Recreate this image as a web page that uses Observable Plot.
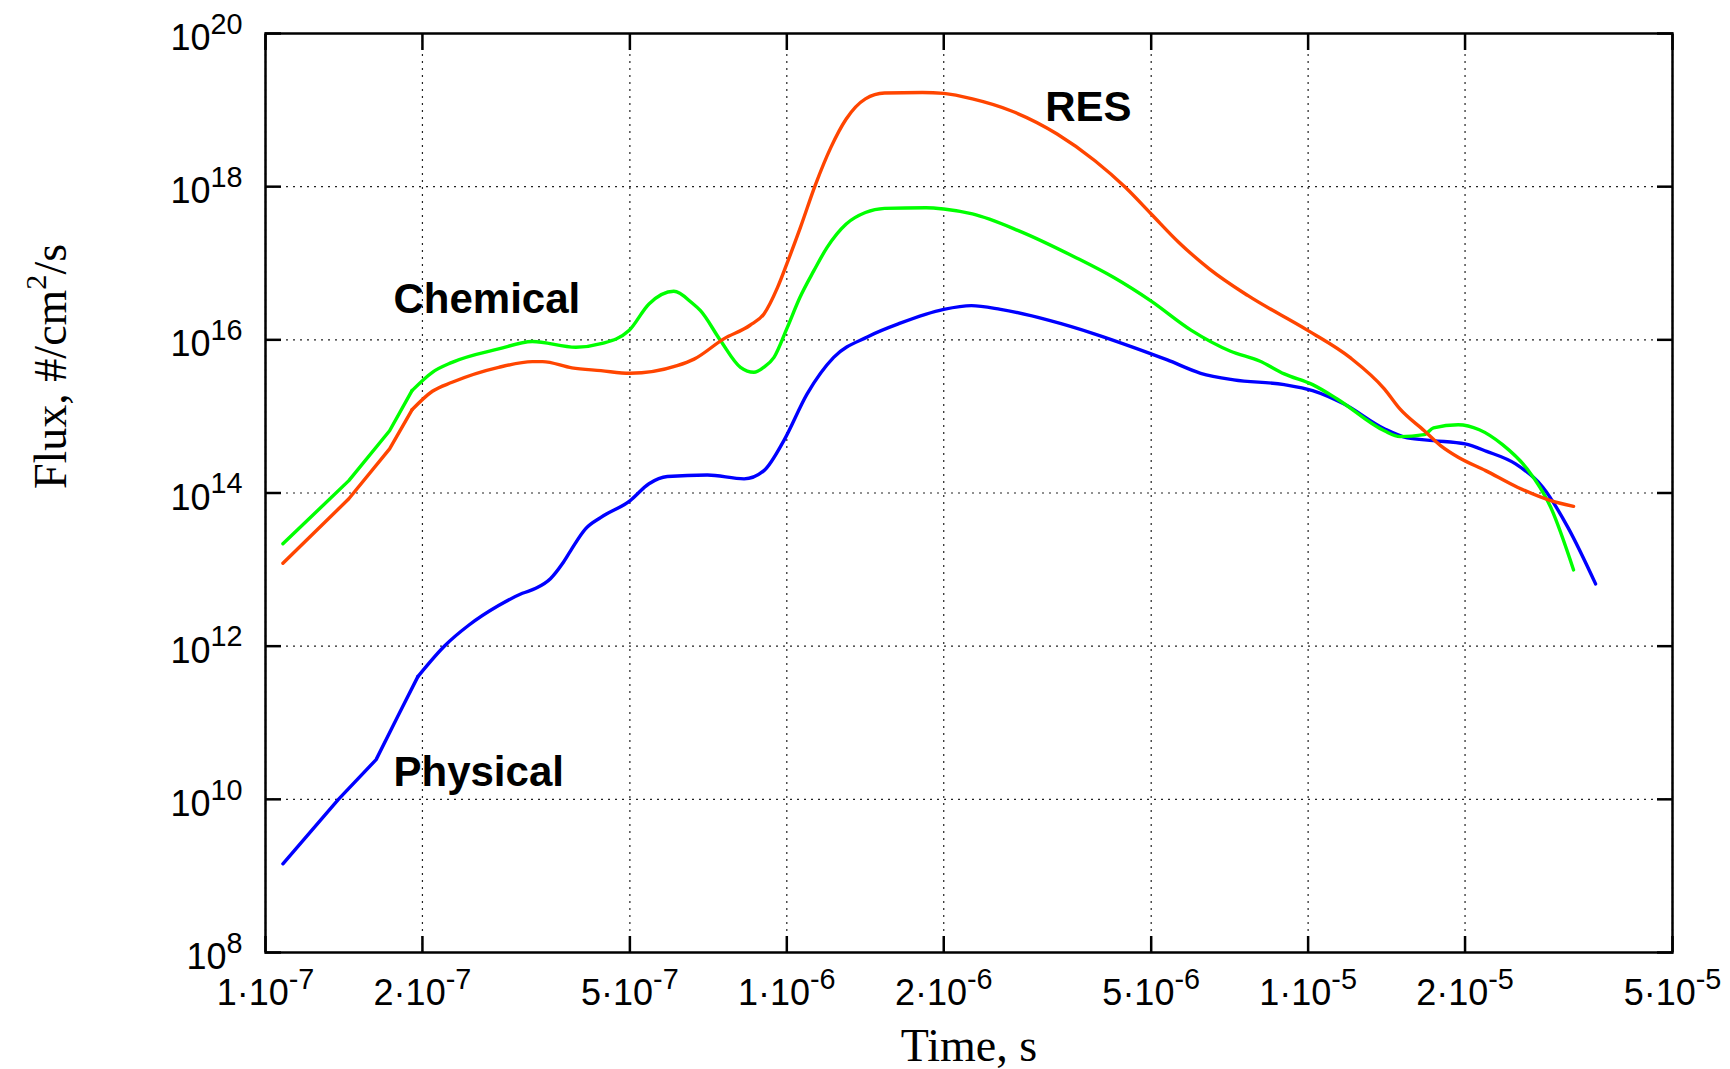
<!DOCTYPE html>
<html><head><meta charset="utf-8">
<script src="https://cdn.jsdelivr.net/npm/d3@7"></script>
<script src="https://cdn.jsdelivr.net/npm/@observablehq/plot@0.6"></script>
<style>html,body{margin:0;padding:0;background:#fff;overflow:hidden}</style>
</head><body><div id="chart"></div>
<script>
// ---- data ----
const seriesNames = ["Physical", "Chemical", "RES"];

const physicalTime = [1.08e-7,1.38e-7,1.63e-7,1.79e-7,1.96e-7,2.21e-7,2.45e-7,2.80e-7,3.11e-7,3.30e-7,3.52e-7,3.71e-7,3.85e-7,4.11e-7,4.40e-7,5.00e-7,5.44e-7,5.90e-7,7.04e-7,8.28e-7,9.04e-7,9.87e-7,1.094e-6,1.23e-6,1.43e-6,1.65e-6,2.0e-6,2.26e-6,2.57e-6,3.2e-6,3.9e-6,4.62e-6,5.37e-6,6.22e-6,7.2e-6,9.0e-6,1.02e-5,1.17e-5,1.40e-5,1.55e-5,1.74e-5,2.0e-5,2.2e-5,2.5e-5,2.82e-5,3.15e-5,3.56e-5];
const physicalFlux = [1.44e9,1.0e10,3.3e10,1.18e11,4.0e11,1.02e12,1.86e12,3.39e12,4.9e12,5.7e12,7.6e12,1.19e13,1.77e13,3.4e13,4.8e13,7.9e13,1.32e14,1.64e14,1.72e14,1.53e14,1.96e14,4.83e14,1.97e15,5.9e15,1.1e16,1.65e16,2.5e16,2.8e16,2.5e16,1.78e16,1.19e16,7.98e15,5.46e15,3.66e15,3.0e15,2.6e15,2.17e15,1.46e15,6.9e14,5.24e14,4.83e14,4.37e14,3.5e14,2.4e14,1.19e14,3.56e13,6.5e12];

const chemicalTime = [1.08e-7,1.445e-7,1.73e-7,1.91e-7,2.09e-7,2.28e-7,2.80e-7,3.25e-7,3.94e-7,4.4e-7,4.98e-7,5.44e-7,6.07e-7,6.59e-7,6.83e-7,7.46e-7,8.15e-7,8.65e-7,9.04e-7,9.45e-7,1.0e-6,1.06e-6,1.127e-6,1.194e-6,1.30e-6,1.415e-6,1.54e-6,1.85e-6,2.0e-6,2.27e-6,2.78e-6,3.58e-6,4.24e-6,5.0e-6,5.95e-6,7.1e-6,8.07e-6,9.0e-6,1.02e-5,1.137e-5,1.40e-5,1.5e-5,1.67e-5,1.74e-5,1.94e-5,2.13e-5,2.36e-5,2.63e-5,2.92e-5,3.23e-5];
const chemicalFlux = [2.17e13,1.45e14,6.5e14,2.17e15,3.77e15,5.08e15,7.6e15,9.5e15,8.0e15,8.9e15,1.32e16,2.94e16,4.3e16,3.0e16,2.4e16,9.8e15,4.37e15,3.77e15,4.4e15,5.9e15,1.4e16,3.6e16,8.0e16,1.6e17,3.26e17,4.6e17,5.2e17,5.3e17,5.1e17,4.4e17,2.67e17,1.19e17,6.5e16,3.2e16,1.35e16,7.1e15,5.3e15,3.59e15,2.6e15,1.69e15,6.5e14,5.45e14,5.78e14,7.08e14,7.8e14,6.7e14,4.28e14,2.07e14,6.5e13,9.9e12];

const resTime = [1.08e-7,1.445e-7,1.73e-7,1.91e-7,2.09e-7,2.28e-7,2.80e-7,3.25e-7,3.40e-7,3.87e-7,4.4e-7,5.0e-7,6.16e-7,6.64e-7,7.57e-7,8.5e-7,9.04e-7,9.6e-7,1.0e-6,1.062e-6,1.136e-6,1.215e-6,1.30e-6,1.415e-6,1.54e-6,1.82e-6,2.0e-6,2.27e-6,2.69e-6,3.30e-6,3.90e-6,4.46e-6,5.0e-6,5.65e-6,6.47e-6,7.67e-6,1.0e-5,1.206e-5,1.40e-5,1.5e-5,1.67e-5,1.795e-5,1.94e-5,2.19e-5,2.52e-5,2.92e-5,3.23e-5];
const resFlux = [1.21e13,8.4e13,3.77e14,1.22e15,2.13e15,2.79e15,4.37e15,5.19e15,5.2e15,4.3e15,3.96e15,3.66e15,4.6e15,5.6e15,1.03e16,1.55e16,2.18e16,4.84e16,9.8e16,2.94e17,1.08e18,3.26e18,7.65e18,1.4e19,1.67e19,1.7e19,1.65e19,1.4e19,9.8e18,4.87e18,2.18e18,9.8e17,4.4e17,1.87e17,8.4e16,3.77e16,1.32e16,5.8e15,2.29e15,1.25e15,6.5e14,4.16e14,2.93e14,1.96e14,1.19e14,7.96e13,6.7e13];

const xTicks = [1e-7, 2e-7, 5e-7, 1e-6, 2e-6, 5e-6, 1e-5, 2e-5, 5e-5];
const xTickLabels = ["1·10^{-7}","2·10^{-7}","5·10^{-7}","1·10^{-6}","2·10^{-6}","5·10^{-6}","1·10^{-5}","2·10^{-5}","5·10^{-5}"];
const yTicks = [1e8, 1e10, 1e12, 1e14, 1e16, 1e18, 1e20];
const yTickLabels = ["10^{8}","10^{10}","10^{12}","10^{14}","10^{16}","10^{18}","10^{20}"];

const labelText = ["Chemical", "Physical", "RES"];
const labelTime = [1.76e-7, 1.76e-7, 3.13e-6];
const labelFlux = [2.24e16, 1.51e10, 7.28e18];

const xTitle = "Time, s";
const yTitle = "Flux, #/cm^{2}/s";

// ---- build tables ----
const seriesTimes = [physicalTime, chemicalTime, resTime];
const seriesFluxes = [physicalFlux, chemicalFlux, resFlux];
const rows = seriesNames.flatMap((name, k) =>
  seriesTimes[k].map((t, i) => ({series: name, time: t, flux: seriesFluxes[k][i]})));
const labels = labelText.map((text, i) => ({text, time: labelTime[i], flux: labelFlux[i]}));

const seriesColors = ["#0000ff", "#00ff00", "#ff4500"];
const sans = "Liberation Sans, Arial, Helvetica, sans-serif";
const serif = "Liberation Serif, Times New Roman, serif";
const gridStyle = {stroke: "#222", strokeOpacity: 1, strokeWidth: 1.2, strokeDasharray: "2,5"};
const tickStyle = {tickSize: -16, fill: "none", label: null, stroke: "black", strokeWidth: 2.5};
const lineStyle = {x: "time", y: "flux", z: "series", stroke: "series", strokeWidth: 3.4, strokeLinejoin: "round"};
// the sparse early samples are joined by straight segments, the rest smoothly
const earlyEnd = 1.97e-7, lateStart = 1.90e-7;

const svg = Plot.plot({
  width: 1730,
  height: 1069,
  marginLeft: 265,
  marginRight: 58,
  marginTop: 33,
  marginBottom: 117,
  style: {fontFamily: sans, fontSize: "36px", background: "white", overflow: "visible"},
  x: {type: "log", domain: [1e-7, 5e-5]},
  y: {type: "log", domain: [1e8, 1e20]},
  color: {domain: seriesNames, range: seriesColors},
  marks: [
    Plot.gridX(xTicks, gridStyle),
    Plot.gridY(yTicks, gridStyle),
    Plot.line(rows, {...lineStyle, filter: (d) => d.time <= earlyEnd, curve: "linear"}),
    Plot.line(rows, {...lineStyle, filter: (d) => d.time >= lateStart, curve: "monotone-x"}),
    Plot.text(labels, {x: "time", y: "flux", text: "text", textAnchor: "start", lineAnchor: "bottom",
      fontSize: 42, fontWeight: "bold", fontFamily: sans, fill: "black"}),
    Plot.frame({stroke: "black", strokeWidth: 2.5}),
    Plot.axisX(xTicks, {anchor: "bottom", ...tickStyle}),
    Plot.axisX(xTicks, {anchor: "top", ...tickStyle}),
    Plot.axisY(yTicks, {anchor: "left", ...tickStyle}),
    Plot.axisY(yTicks, {anchor: "right", ...tickStyle}),
    Plot.axisX(xTicks, {anchor: "bottom", tickSize: 0, tickPadding: 27, label: null, fontSize: 36,
      tickFormat: (d) => xTickLabels[xTicks.indexOf(d)]}),
    Plot.axisY(yTicks, {anchor: "left", tickSize: 0, tickPadding: 23, dy: 5, label: null, fontSize: 36,
      tickFormat: (d) => yTickLabels[yTicks.indexOf(d)]}),
    Plot.text([xTitle], {frameAnchor: "bottom", dy: 108, lineAnchor: "bottom", fontSize: 46, fontFamily: serif, fill: "black"}),
    Plot.text([yTitle], {frameAnchor: "left", dx: -200, dy: -4, rotate: -90, lineAnchor: "bottom", fontSize: 46, fontFamily: serif, fill: "black"})
  ]
});

// turn "^{...}" into raised tspans
function supify(root) {
  const NS = "http://www.w3.org/2000/svg";
  root.querySelectorAll("text").forEach((t) => {
    const s = t.textContent;
    if (!s.includes("^{")) return;
    const g = t.closest("g[aria-label]");
    const isTick = g && /tick label/.test(g.getAttribute("aria-label"));
    const fs = parseFloat(getComputedStyle(t).fontSize) || 36;
    const supSize = fs * (isTick ? 0.8 : 0.66);
    const raise = fs * (isTick ? 0.45 : 0.42);
    const parts = s.split(/(\^\{[^}]*\})/);
    t.textContent = "";
    let raised = false;
    for (const p of parts) {
      if (!p) continue;
      const m = p.match(/^\^\{(.*)\}$/);
      const ts = document.createElementNS(NS, "tspan");
      if (m) {
        ts.textContent = m[1];
        ts.setAttribute("font-size", supSize);
        ts.setAttribute("dy", -raise);
        raised = true;
      } else {
        ts.textContent = p;
        if (raised) { ts.setAttribute("dy", raise); raised = false; }
      }
      t.appendChild(ts);
    }
  });
}
document.getElementById("chart").appendChild(svg);
supify(svg);
</script></body></html>
